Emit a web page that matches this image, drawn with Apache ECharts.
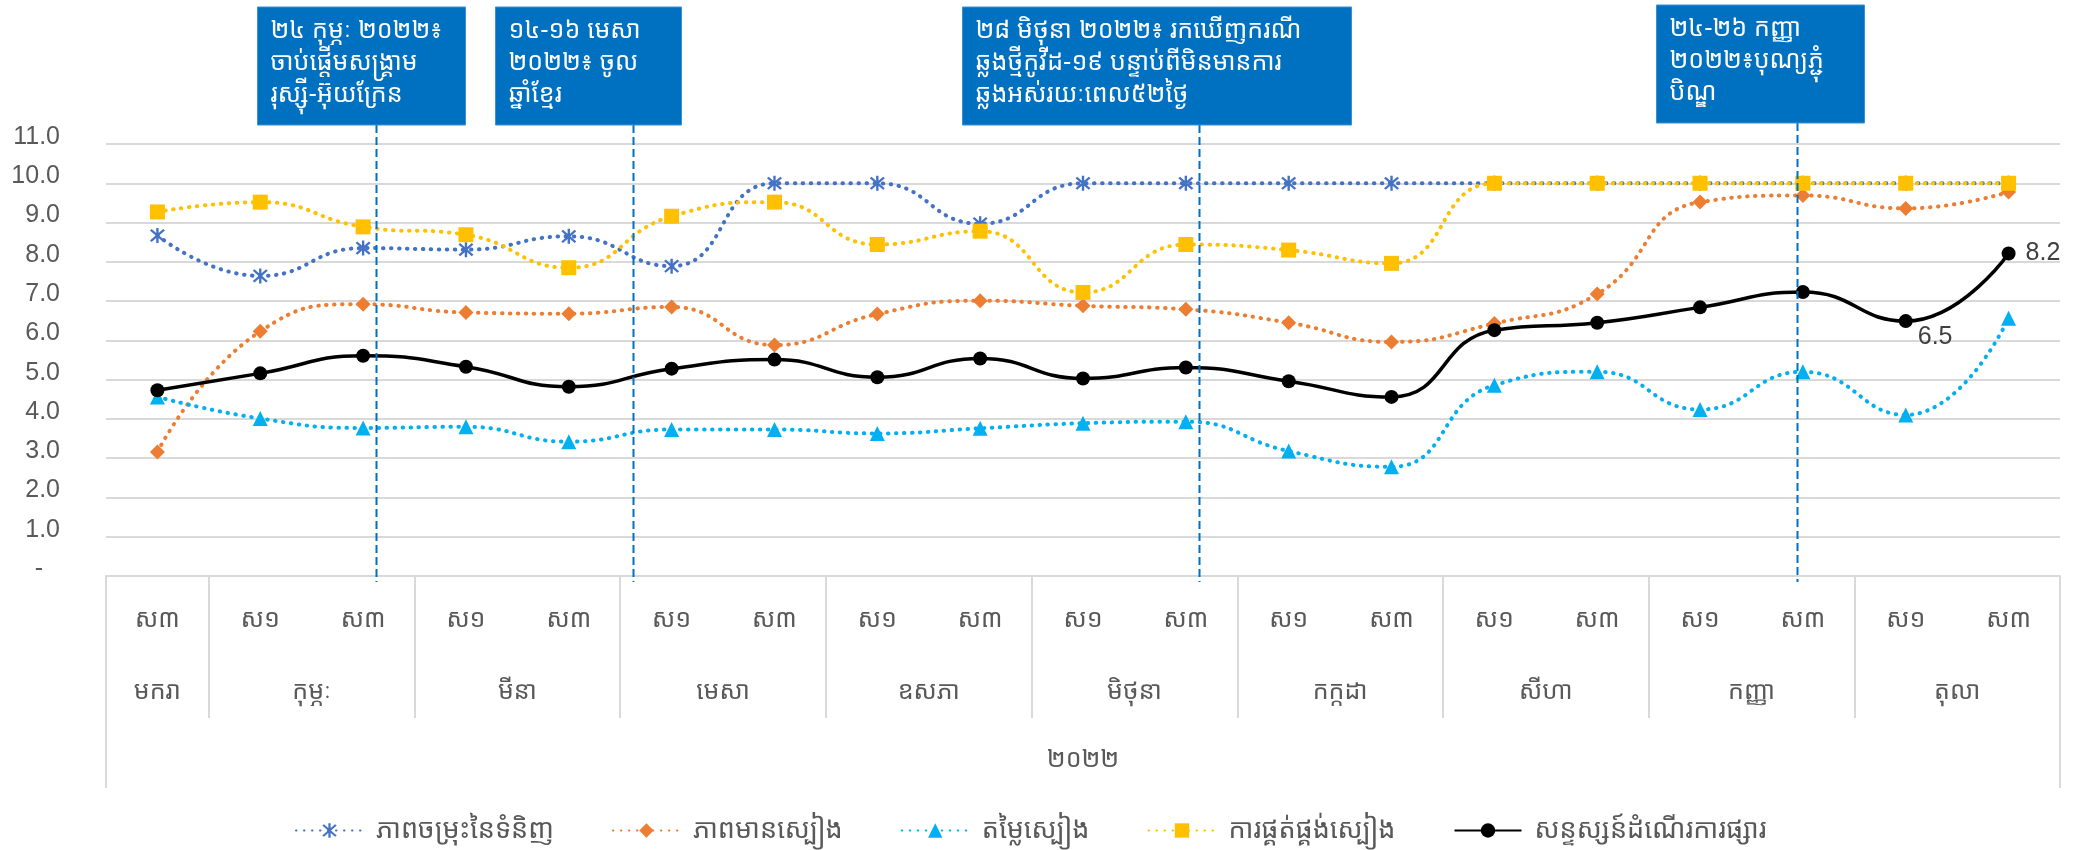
<!DOCTYPE html>
<html>
<head>
<meta charset="utf-8">
<script src="https://cdn.jsdelivr.net/npm/echarts@6/dist/echarts.min.js"></script>
<style>
html,body{margin:0;padding:0;background:#ffffff;}
#chart{width:2089px;height:850px;}
</style>
</head>
<body>
<div id="chart"></div>
<script>
// ---------------- DATA ----------------
const periods = ['ស៣','ស១','ស៣','ស១','ស៣','ស១','ស៣','ស១','ស៣','ស១','ស៣','ស១','ស៣','ស១','ស៣','ស១','ស៣','ស១','ស៣'];
const months = ['មករា','កុម្ភៈ','មីនា','មេសា','ឧសភា','មិថុនា','កក្កដា','សីហា','កញ្ញា','តុលា'];
const monthCenters = [0, 1.5, 3.5, 5.5, 7.5, 9.5, 11.5, 13.5, 15.5, 17.5];
const monthBounds = [0.5, 2.5, 4.5, 6.5, 8.5, 10.5, 12.5, 14.5, 16.5];
const yearLabel = '២០២២';
const yearCenter = 9;
const outerBounds = [-0.5, 18.5];
const yTicks = [0,1,2,3,4,5,6,7,8,9,10,11];

const seriesNames = ['ភាពចម្រុះនៃទំនិញ','ភាពមានស្បៀង','តម្លៃស្បៀង','ការផ្គត់ផ្គង់ស្បៀង','សន្ទស្សន៍ដំណើរការផ្សារ'];
const diversity    = [8.67, 7.64, 8.35, 8.31, 8.65, 7.89, 10.0, 10.0, 8.97, 10.0, 10.0, 10.0, 10.0, 10.0, 10.0, 10.0, 10.0, 10.0, 10.0];
const availability = [3.16, 6.23, 6.92, 6.71, 6.68, 6.85, 5.88, 6.67, 7.01, 6.88, 6.79, 6.45, 5.96, 6.43, 7.18, 9.52, 9.69, 9.36, 9.78];
const price        = [4.56, 4.01, 3.77, 3.80, 3.42, 3.73, 3.73, 3.63, 3.76, 3.89, 3.93, 3.18, 2.78, 4.86, 5.20, 4.24, 5.20, 4.10, 6.56];
const supply       = [9.27, 9.52, 8.89, 8.69, 7.85, 9.16, 9.52, 8.44, 8.78, 7.22, 8.44, 8.30, 7.96, 10.0, 10.0, 10.0, 10.0, 10.0, 10.0];
const marketIndex  = [4.73, 5.16, 5.61, 5.33, 4.82, 5.28, 5.51, 5.06, 5.54, 5.03, 5.31, 4.96, 4.56, 6.26, 6.45, 6.84, 7.23, 6.49, 8.21];
const labeledPoints = [17, 18];

const annPositions = [2.13, 4.62, 10.13, 15.94];
const annTexts = [
  '២៤ កុម្ភៈ ២០២២៖\nចាប់ផ្តើមសង្គ្រាម\nរុស្ស៊ី-អ៊ុយក្រែន',
  '១៤-១៦ មេសា\n២០២២៖ ចូល\nឆ្នាំខ្មែរ',
  '២៨ មិថុនា ២០២២៖ រកឃើញករណី\nឆ្លងថ្មីកូវីដ-១៩ បន្ទាប់ពីមិនមានការ\nឆ្លងអស់រយៈពេល៥២ថ្ងៃ',
  '២៤-២៦ កញ្ញា\n២០២២៖បុណ្យភ្ជុំ\nបិណ្ឌ'
];

// ---------------- STYLE / LAYOUT ----------------
const FONT = "'Liberation Sans', Arial, 'Noto Sans Khmer', 'Khmer OS', sans-serif";
const GRAY = '#595959';
const GRID = '#d9d9d9';
const annBoxes = [
  {dx: -119, w: 208, y: 7},
  {dx: -138, w: 186, y: 7},
  {dx: -237, w: 389, y: 7},
  {dx: -141, w: 208, y: 5}
];
const BOX_H = 118;
const ASTERISK = 'path://M4.3,0 L5.7,0 L5.7,10 L4.3,10 Z M0.6,1.6 L1.6,0.6 L9.4,8.4 L8.4,9.4 Z M8.4,0.6 L9.4,1.6 L1.6,9.4 L0.6,8.4 Z';
const DOT = [0.5, 7.5];

function dottedSeries(name, data, color, symbol, size) {
  return {
    name: name, type: 'line', data: data, xAxisIndex: 0, yAxisIndex: 0,
    smooth: 0.5, symbol: symbol, symbolSize: size, showSymbol: true,
    lineStyle: {color: color, width: 4, type: DOT, cap: 'round'},
    itemStyle: {color: color, borderWidth: 0},
    emphasis: {disabled: true}, animation: false
  };
}

const chart = echarts.init(document.getElementById('chart'), null, {renderer: 'canvas'});

const option = {
  backgroundColor: '#ffffff',
  animation: false,
  textStyle: {fontFamily: FONT},
  grid: {left: 106, right: 29, top: 144, bottom: 274, containLabel: false, outerBoundsMode: 'none'},
  legend: {
    data: seriesNames,
    left: 290, top: 812,
    itemWidth: 67, itemHeight: 18, itemGap: 58,
    textStyle: {fontSize: 27, color: GRAY, fontFamily: FONT, padding: [0, 0, 0, 8]},
    selectedMode: false
  },
  xAxis: [
    {
      type: 'category', data: periods, boundaryGap: true, position: 'bottom', offset: 0,
      axisLine: {show: true, lineStyle: {color: GRID, width: 2}},
      axisTick: {show: false},
      axisLabel: {interval: 0, fontSize: 25, color: GRAY, margin: 44, verticalAlign: 'middle', fontFamily: FONT},
      splitLine: {show: false}
    },
    {
      type: 'value', min: outerBounds[0], max: outerBounds[1], position: 'bottom', offset: 0,
      axisLine: {show: false},
      axisTick: {show: true, customValues: monthBounds, length: 142, lineStyle: {color: GRID, width: 2}},
      axisLabel: {
        show: true, customValues: monthCenters, fontSize: 25, color: GRAY, margin: 116,
        verticalAlign: 'middle', fontFamily: FONT,
        formatter: function (v) { const k = monthCenters.indexOf(v); return k >= 0 ? months[k] : ''; }
      },
      splitLine: {show: false}
    },
    {
      type: 'value', min: outerBounds[0], max: outerBounds[1], position: 'bottom', offset: 0,
      axisLine: {show: false},
      axisTick: {show: true, customValues: outerBounds, length: 212, lineStyle: {color: GRID, width: 2}},
      axisLabel: {
        show: true, customValues: [yearCenter], fontSize: 25, color: GRAY, margin: 184,
        verticalAlign: 'middle', fontFamily: FONT,
        formatter: function () { return yearLabel; }
      },
      splitLine: {show: false}
    }
  ],
  yAxis: {
    type: 'value', min: yTicks[0], max: yTicks[yTicks.length - 1], interval: 1,
    axisLine: {show: false}, axisTick: {show: false},
    splitLine: {show: true, lineStyle: {color: GRID, width: 2}},
    axisLabel: {
      fontSize: 25, color: GRAY, margin: 46, fontFamily: FONT,
      verticalAlign: 'middle', padding: [0, 0, 14, 0],
      formatter: function (v) { return v === 0 ? '{d|-}' : v.toFixed(1); },
      rich: {d: {fontSize: 25, color: GRAY, padding: [0, 17, 0, 0], fontFamily: FONT}}
    }
  },
  series: [
    dottedSeries(seriesNames[0], diversity, '#4472C4', ASTERISK, 15),
    dottedSeries(seriesNames[1], availability, '#ED7D31', 'diamond', 15),
    dottedSeries(seriesNames[2], price, '#00B0F0', 'triangle', 15),
    dottedSeries(seriesNames[3], supply, '#FFC000', 'rect', 15),
    {
      name: seriesNames[4], type: 'line', xAxisIndex: 0, yAxisIndex: 0,
      smooth: 0.5, symbol: 'circle', symbolSize: 14,
      lineStyle: {color: '#000000', width: 3.5},
      itemStyle: {color: '#000000'},
      emphasis: {disabled: true},
      label: {
        show: false, fontSize: 25, color: '#404040', fontFamily: FONT,
        formatter: function (p) { return Number(p.value).toFixed(1); }
      },
      data: marketIndex.map(function (v, i) {
        if (i === labeledPoints[0]) return {value: v, label: {show: true, position: 'right', distance: 5, offset: [0, 16]}};
        if (i === labeledPoints[1]) return {value: v, label: {show: true, position: 'right', distance: 10}};
        return v;
      })
    },
    {
      type: 'custom', name: 'annotations', xAxisIndex: 1, yAxisIndex: 0,
      clip: false, z: 10, silent: true,
      encode: {x: 0, y: 1},
      data: annPositions.map(function (p) { return [p, 0]; }),
      renderItem: function (params, api) {
        const i = params.dataIndex;
        const base = api.coord([api.value(0), 0]);
        const x = Math.round(base[0]) + 0.5;
        const b = annBoxes[i];
        return {
          type: 'group',
          children: [
            {type: 'line', shape: {x1: x, y1: b.y + BOX_H, x2: x, y2: base[1] + 6},
             style: {stroke: '#0070C0', lineWidth: 2, lineDash: [8, 4]}},
            {type: 'rect', shape: {x: x + b.dx, y: b.y, width: b.w, height: BOX_H},
             style: {fill: '#0070C0', stroke: '#3b8fd4', lineWidth: 1}},
            {type: 'text', x: x + b.dx + 13, y: b.y + 8,
             style: {text: annTexts[i], fill: '#ffffff', fontSize: 25, fontFamily: FONT,
                     lineHeight: 32, verticalAlign: 'top', align: 'left'}}
          ]
        };
      }
    }
  ]
};

chart.setOption(option);
</script>
</body>
</html>
